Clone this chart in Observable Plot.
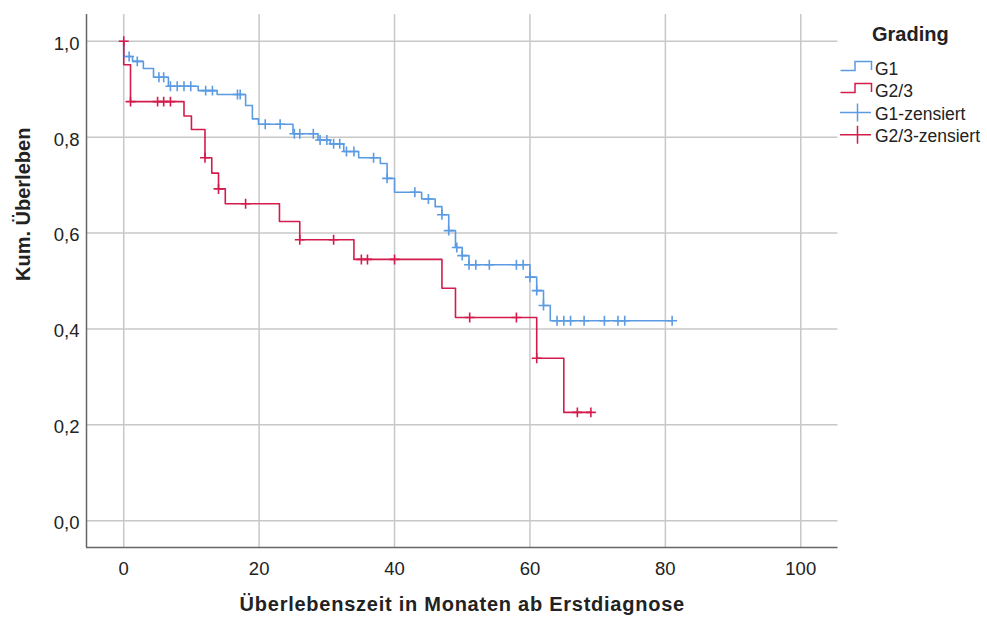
<!DOCTYPE html>
<html><head><meta charset="utf-8">
<script src="https://cdn.jsdelivr.net/npm/d3@7"></script>
<script src="https://cdn.jsdelivr.net/npm/@observablehq/plot@0.6"></script>
<style>
body{margin:0;background:#fff;font-family:"Liberation Sans",Arial,sans-serif;}
#wrap{position:relative;width:987px;height:621px;}
#legend{position:absolute;left:0;top:0;}
</style></head><body><div id="wrap"></div>
<script>
// ---- data ----
const groups = ["G1", "G2/3"];
const colors = ["#5b9be3", "#d41c4c"];

const g1Time = [0, 0, 1.3, 2.9, 4.4, 6.6, 11, 13.8, 18, 19, 19.9, 25, 28.7, 30.5, 32.5, 34.7, 37.9, 38.9, 40, 44, 46, 47, 48, 49, 50, 51, 60, 61, 62, 63];
const g1Surv = [1, 0.968, 0.958, 0.943, 0.925, 0.906, 0.897, 0.889, 0.866, 0.838, 0.827, 0.807, 0.794, 0.786, 0.770, 0.757, 0.745, 0.714, 0.685, 0.671, 0.655, 0.638, 0.605, 0.570, 0.553, 0.534, 0.508, 0.480, 0.449, 0.417];
const g1End = 81;
const g1CensTime = [0.8, 2, 5.2, 5.9, 6.9, 7.9, 8.9, 9.9, 12.1, 13.1, 16.8, 17.2, 20.9, 23.1, 25.2, 26, 28, 29, 30, 31, 31.9, 32.9, 34, 36.9, 38.9, 43, 45, 47, 48, 49.2, 50, 51, 52, 54, 58, 59, 60, 61, 62, 64, 65, 66, 68, 71, 73, 74, 81];

const g2Time = [0, 0, 1, 8.9, 10, 12, 13, 14, 15, 23, 26, 34, 47, 49, 61, 65];
const g2Surv = [1, 0.951, 0.874, 0.844, 0.816, 0.757, 0.725, 0.692, 0.661, 0.624, 0.586, 0.545, 0.485, 0.424, 0.339, 0.226];
const g2End = 69;
const g2CensTime = [0, 1, 5, 5.9, 6.9, 12, 14, 18, 26, 31, 35.1, 36, 40, 51.1, 58, 61, 67, 69];
const g2CensSurv = [1, 0.874, 0.874, 0.874, 0.874, 0.757, 0.692, 0.661, 0.586, 0.586, 0.545, 0.545, 0.545, 0.424, 0.424, 0.339, 0.226, 0.226];

const xTicks = [0, 20, 40, 60, 80, 100];
const yTicks = [0, 0.2, 0.4, 0.6, 0.8, 1.0];
const xTitle = "Überlebenszeit in Monaten ab Erstdiagnose";
const yTitle = "Kum. Überleben";
const legendTitle = "Grading";
const legendLabels = ["G1", "G2/3", "G1-zensiert", "G2/3-zensiert"];

// ---- build tables ----
function stepRows(t, s, end, g) {
  const rows = t.map((d, i) => ({t: d, s: s[i], g}));
  rows.push({t: end, s: s[s.length - 1], g});
  return rows;
}
function survAt(t, times, surv) {
  let v = surv[0];
  for (let i = 0; i < times.length; i++) if (times[i] <= t) v = surv[i];
  return v;
}
const g1Rows = stepRows(g1Time, g1Surv, g1End, "G1");
const g2Rows = stepRows(g2Time, g2Surv, g2End, "G2/3");
const g1Cens = g1CensTime.map(t => ({t, s: survAt(t, g1Time, g1Surv)}));
const g2Cens = g2CensTime.map((t, i) => ({t, s: g2CensSurv[i]}));

const fmt = d => d.toFixed(1).replace(".", ",");
const xDom = [-5.5, 105.5];
const yDom = [-0.0557, 1.0557];

const chart = Plot.plot({
  width: 987, height: 621,
  marginLeft: 86, marginRight: 149.5, marginTop: 14, marginBottom: 74,
  style: {fontFamily: '"Liberation Sans", Arial, sans-serif', fontSize: "18px", color: "#222", background: "#fff"},
  x: {domain: xDom, axis: null},
  y: {domain: yDom, axis: null},
  marks: [
    Plot.gridX(xTicks, {stroke: "#c8c8c8", strokeOpacity: 1, strokeWidth: 1.5}),
    Plot.gridY(yTicks, {stroke: "#c8c8c8", strokeOpacity: 1, strokeWidth: 1.5}),
    Plot.ruleX([xDom[0]], {stroke: "#666", strokeWidth: 1.5}),
    Plot.ruleY([yDom[0]], {stroke: "#666", strokeWidth: 1.5}),
    Plot.axisX(xTicks, {tickSize: 0, tickPadding: 14, fontSize: 18.5, label: null, fill: "#222"}),
    Plot.axisY(yTicks, {tickSize: 0, tickPadding: 7, fontSize: 18.5, tickFormat: fmt, label: null, dy: 2.5, fill: "#222"}),
    Plot.line(g1Rows, {x: "t", y: "s", curve: "step-after", stroke: colors[0], strokeWidth: 1.6}),
    Plot.line(g2Rows, {x: "t", y: "s", curve: "step-after", stroke: colors[1], strokeWidth: 1.6}),
    Plot.dot(g1Cens, {x: "t", y: "s", symbol: "plus", r: 3.3, stroke: colors[0], strokeWidth: 1.6}),
    Plot.dot(g2Cens, {x: "t", y: "s", symbol: "plus", r: 3.3, stroke: colors[1], strokeWidth: 1.6}),
    Plot.text([xTitle], {frameAnchor: "bottom", dy: 63, fontSize: 20, fontWeight: "bold", fill: "#222"}),
    Plot.text([yTitle], {frameAnchor: "left", dx: -63, rotate: -90, fontSize: 20, fontWeight: "bold", fill: "#222"})
  ]
});
d3.select(chart).selectAll("text").filter(function () { return this.textContent === xTitle; })
  .style("letter-spacing", "0.75px");
const wrap = document.getElementById("wrap");
wrap.appendChild(chart);

// ---- legend overlay ----
const lg = d3.select(wrap).append("svg").attr("id", "legend").attr("width", 987).attr("height", 160)
  .style("font-family", '"Liberation Sans", Arial, sans-serif');
lg.append("text").attr("x", 872).attr("y", 41).attr("font-size", 20).attr("font-weight", "bold").attr("fill", "#222").text(legendTitle);
const rowY = [75, 97, 119.5, 141.7];
legendLabels.forEach((lab, i) => {
  const c = colors[i % 2];
  const by = rowY[i];
  if (i < 2) {
    lg.append("path").attr("fill", "none").attr("stroke", c).attr("stroke-width", 1.5)
      .attr("d", `M840.5,${by - 4.5}H855V${by - 13.5}H871.5V${by - 5}`);
  } else {
    lg.append("path").attr("fill", "none").attr("stroke", c).attr("stroke-width", 1.5)
      .attr("d", `M840,${by - 7}H871M857.5,${by - 16}V${by + 2}`);
  }
  lg.append("text").attr("x", 875).attr("y", by).attr("font-size", 17.5).attr("fill", "#222").text(lab);
});
</script></body></html>
